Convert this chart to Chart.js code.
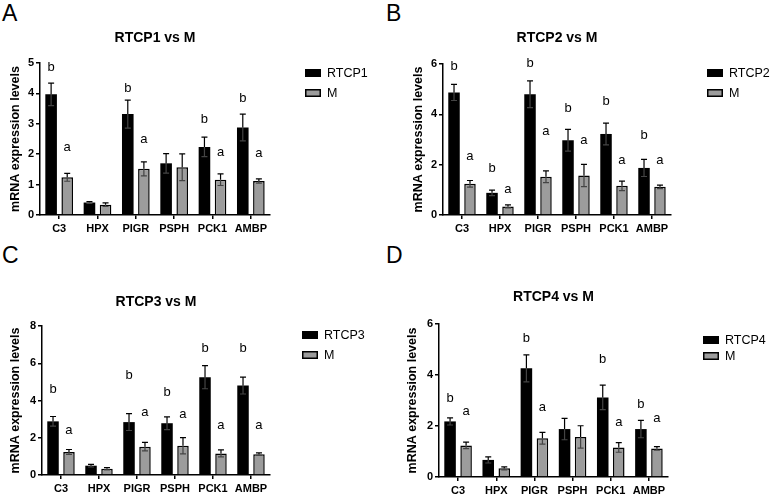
<!DOCTYPE html>
<html><head><meta charset="utf-8">
<script src="https://cdn.jsdelivr.net/npm/chart.js@4/dist/chart.umd.min.js"></script>
<style>
body{margin:0;background:#fff;width:771px;height:497px;position:relative;overflow:hidden;font-family:"Liberation Sans",Arial,sans-serif}
canvas{position:absolute}
.pl{position:absolute;font-size:23px;line-height:1;color:#000}
</style></head><body>
<div class="pl" style="left:2px;top:2px">A</div>
<div class="pl" style="left:386px;top:2px">B</div>
<div class="pl" style="left:2px;top:244px">C</div>
<div class="pl" style="left:386px;top:244px">D</div>
<canvas id="cA" width="390" height="240" style="left:0;top:0"></canvas>
<canvas id="cB" width="381" height="240" style="left:390px;top:0"></canvas>
<canvas id="cC" width="390" height="257" style="left:0;top:240px"></canvas>
<canvas id="cD" width="381" height="257" style="left:390px;top:240px"></canvas>
<script>
// ---------- data ----------
const categories = ['C3', 'HPX', 'PIGR', 'PSPH', 'PCK1', 'AMBP'];
const groupNames = ['RTCP1', 'RTCP2', 'RTCP3', 'RTCP4'];
const controlName = 'M';

const mValues = [1.24, 0.34, 1.52, 1.57, 1.16, 1.12];
const mErr    = [0.13, 0.06, 0.23, 0.44, 0.19, 0.07];

const rtcp1    = [3.97, 0.41, 3.32, 1.70, 2.24, 2.88];
const rtcp1Err = [0.37, 0.03, 0.46, 0.32, 0.32, 0.44];
const rtcp2    = [4.87, 0.88, 4.80, 2.97, 3.22, 1.87];
const rtcp2Err = [0.32, 0.11, 0.53, 0.43, 0.43, 0.34];
const rtcp3    = [2.88, 0.50, 2.84, 2.78, 5.25, 4.80];
const rtcp3Err = [0.26, 0.07, 0.45, 0.34, 0.62, 0.45];
const rtcp4    = [2.18, 0.67, 4.26, 1.88, 3.12, 1.88];
const rtcp4Err = [0.14, 0.12, 0.53, 0.42, 0.48, 0.34];

const yMaxes = [5, 6, 8, 6];
const ySteps = [1, 2, 2, 2];

// significance letters and the value level where each letter sits
const letters1  = ['b', '', 'b', '', 'b', 'b'];
const letters1Y = [4.86, null, 4.18, null, 3.14, 3.83];
const mLetters1  = ['a', '', 'a', '', 'a', 'a'];
const mLetters1Y = [2.23, null, 2.50, null, 2.06, 2.01];
const letters2  = ['b', 'b', 'b', 'b', 'b', 'b'];
const letters2Y = [5.90, 1.85, 6.02, 4.25, 4.52, 3.15];
const mLetters2  = ['a', 'a', 'a', 'a', 'a', 'a'];
const mLetters2Y = [2.32, 1.03, 3.31, 2.98, 2.16, 2.16];
const letters3  = ['b', '', 'b', 'b', 'b', 'b'];
const letters3Y = [4.57, null, 5.32, 4.45, 6.80, 6.80];
const mLetters3  = ['a', '', 'a', 'a', 'a', 'a'];
const mLetters3Y = [2.39, null, 3.36, 3.23, 2.64, 2.64];
const letters4  = ['b', '', 'b', '', 'b', 'b'];
const letters4Y = [3.10, null, 5.42, null, 4.60, 2.86];
const mLetters4  = ['a', '', 'a', '', 'a', 'a'];
const mLetters4Y = [2.58, null, 2.71, null, 2.13, 2.28];

// ---------- drawing ----------
const FONT = '"Liberation Sans", Arial, sans-serif';

const decoPlugin = {
  id: 'deco',
  afterDatasetsDraw(chart) {
    const o = chart.options.plugins.deco;
    const ctx = chart.ctx;
    const ys = chart.scales.y;
    const ca = chart.chartArea;
    chart.data.datasets.forEach((ds, di) => {
      const meta = chart.getDatasetMeta(di);
      meta.data.forEach((bar, i) => {
        const v = ds.data[i], e = ds.errors[i];
        const x = bar.x;
        const yT = ys.getPixelForValue(v + e);
        const yB = ys.getPixelForValue(v - e);
        const yV = ys.getPixelForValue(v);
        ctx.save();
        ctx.lineWidth = 1.2;
        ctx.strokeStyle = '#000';
        ctx.beginPath();
        ctx.moveTo(x, yV); ctx.lineTo(x, yT);
        ctx.moveTo(x - 3, yT); ctx.lineTo(x + 3, yT);
        ctx.stroke();
        ctx.strokeStyle = '#444';
        ctx.beginPath();
        ctx.moveTo(x, yV); ctx.lineTo(x, yB);
        ctx.moveTo(x - 3, yB); ctx.lineTo(x + 3, yB);
        ctx.stroke();
        const L = ds.letters[i];
        if (L) {
          ctx.fillStyle = '#000';
          ctx.font = '13px ' + FONT;
          ctx.textAlign = 'center';
          ctx.textBaseline = 'middle';
          ctx.fillText(L, x, ys.getPixelForValue(ds.letterY[i]));
        }
        ctx.restore();
      });
    });
    ctx.save();
    ctx.fillStyle = '#000';
    ctx.font = 'bold 14px ' + FONT;
    ctx.textAlign = 'center';
    ctx.textBaseline = 'middle';
    ctx.fillText(o.title, (ca.left + ca.right) / 2, o.titleY);
    ctx.font = '12.5px ' + FONT;
    ctx.textAlign = 'left';
    chart.data.datasets.forEach((ds, di) => {
      const y = o.legY + di * o.legGap;
      ctx.fillStyle = ds.backgroundColor;
      ctx.fillRect(o.legX, y - 4, 16, 8);
      ctx.lineWidth = 1.5;
      ctx.strokeStyle = '#000';
      ctx.strokeRect(o.legX + 0.75, y - 3.25, 14.5, 6.5);
      ctx.fillStyle = '#000';
      ctx.fillText(ds.label, o.legX + 22, y + 0.5);
    });
    ctx.restore();
  }
};

function makePanel(id, idx, vals, errs, lets, letsY, mLets, mLetsY, lay) {
  const canvas = document.getElementById(id);
  new Chart(canvas, {
    type: 'bar',
    data: {
      labels: categories,
      datasets: [
        { label: groupNames[idx], data: vals, errors: errs, letters: lets, letterY: letsY,
          backgroundColor: '#000000', borderColor: '#000', borderWidth: 0,
          categoryPercentage: 0.84, barPercentage: 0.72 },
        { label: controlName, data: mValues, errors: mErr, letters: mLets, letterY: mLetsY,
          backgroundColor: '#9c9c9c', borderColor: '#000', borderWidth: 1.5,
          categoryPercentage: 0.84, barPercentage: 0.72 }
      ]
    },
    options: {
      responsive: false, animation: false,
      layout: { padding: { left: 0, top: lay.top, right: lay.right, bottom: 0 } },
      plugins: {
        legend: { display: false }, tooltip: { enabled: false },
        deco: { title: groupNames[idx] + ' vs ' + controlName, titleY: lay.titleY,
                legX: lay.legX, legY: lay.legY, legGap: lay.legGap }
      },
      scales: {
        x: {
          afterFit: s => { s.height = lay.xh; },
          grid: { drawOnChartArea: false, offset: false, tickLength: 4, color: '#000', lineWidth: 1.5 },
          border: { color: '#000', width: 1.5 },
          ticks: { color: '#000', padding: lay.xpad, font: { family: FONT, size: 11, weight: 'bold' }, maxRotation: 0 }
        },
        y: {
          min: 0, max: yMaxes[idx],
          afterFit: s => { s.width = lay.left; },
          grid: { drawOnChartArea: false, tickLength: 4, color: '#000', lineWidth: 1.5 },
          border: { color: '#000', width: 1.5 },
          ticks: { stepSize: ySteps[idx], color: '#000', padding: 2, font: { family: FONT, size: 11, weight: 'bold' } },
          title: { display: true, text: 'mRNA expression levels', color: '#000',
                   font: { family: FONT, size: 12.5, weight: 'bold' }, padding: { top: lay.ytp, bottom: 0 } }
        }
      }
    },
    plugins: [decoPlugin]
  });
}

makePanel('cA', 0, rtcp1, rtcp1Err, letters1, letters1Y, mLetters1, mLetters1Y,
  { left: 40, top: 63, right: 120, xh: 25, xpad: 3, ytp: 8, titleY: 38, legX: 305, legY: 73, legGap: 20 });
makePanel('cB', 1, rtcp2, rtcp2Err, letters2, letters2Y, mLetters2, mLetters2Y,
  { left: 53, top: 64, right: 100, xh: 25, xpad: 3, ytp: 21, titleY: 38, legX: 317, legY: 73, legGap: 20 });
makePanel('cC', 2, rtcp3, rtcp3Err, letters3, letters3Y, mLetters3, mLetters3Y,
  { left: 42, top: 86, right: 120, xh: 22, xpad: 3, ytp: 8, titleY: 62, legX: 302, legY: 95, legGap: 20 });
makePanel('cD', 3, rtcp4, rtcp4Err, letters4, letters4Y, mLetters4, mLetters4Y,
  { left: 49, top: 84, right: 103, xh: 20, xpad: 3, ytp: 15, titleY: 57, legX: 313, legY: 100, legGap: 16 });
</script>
</body></html>
